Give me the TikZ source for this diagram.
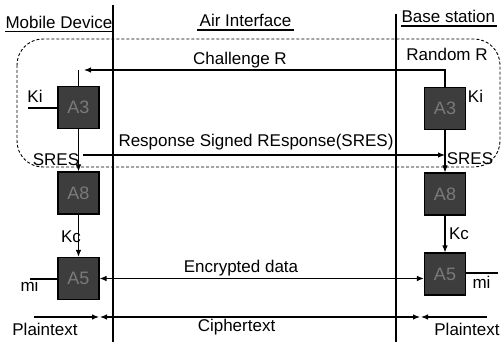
\documentclass[tikz,border=0pt]{standalone}
\usepackage{fontspec}
\setmainfont{Liberation Sans}
\usetikzlibrary{arrows.meta}
\begin{document}
\begin{tikzpicture}[x=1pt,y=-1pt,line width=1.1pt,
  box/.style={draw=black,fill=black!76,minimum width=41pt,minimum height=42pt,
    inner sep=0pt,text=black!52,font=\fontsize{18}{18}\selectfont},
  lbl/.style={font=\fontsize{17}{18}\selectfont,inner sep=0pt,anchor=base},
  tip/.style={-{Latex[length=7pt,width=5.5pt]}},
  dtip/.style={{Latex[length=7pt,width=5.5pt]}-{Latex[length=7pt,width=5.5pt]}},
  frame/.style={dash pattern=on 3pt off 2pt,line width=0.9pt,rounded corners=26pt}]
\useasboundingbox (0,0) rectangle (501,342);

% dashed frame around the authentication exchange
\draw[frame] (17,39) rectangle (500,167);

% lifelines
\coordinate (mlt) at (113,5);
\coordinate (mlb) at (113,342);
\coordinate (blt) at (396,14);
\coordinate (blb) at (396,342);
\draw (mlt) -- (mlb);
\draw (blt) -- (blb);

% headers
\node[lbl,anchor=base west] (hmob) at (5,28.5) {Mobile Device};
\node[lbl] (hair) at (245.5,27) {Air Interface};
\node[lbl,anchor=base west] (hbase) at (401,23) {Base station};
\draw (hmob.base west) ++(0,3) -- (113,31.5);
\draw (197,30) -- (294,30);
\draw (401,26) -- (497,26);

% algorithm blocks
\node[box] (mA3) at (78.5,107.5) {A3};
\node[box] (mA8) at (78.5,193) {A8};
\node[box] (mA5) at (78.5,278.5) {A5};
\node[box] (bA3) at (445,108.5) {A3};
\node[box] (bA8) at (445,194) {A8};
\node[box] (bA5) at (445,274) {A5};

% challenge
\coordinate (chl) at (84,70);
\coordinate (chs) at (78.5,70);
\draw[tip] (bA3.north) |- (chl);
\draw (chs) -- (mA3.north);
\node[lbl] (tch) at (240,65) {Challenge R};
\node[lbl] (trand) at (447,61) {Random R};

% keys Ki
\coordinate (kil) at (28,108);
\draw (kil) -- (kil -| mA3.west);
\node[lbl] (tkil) at (35,103) {Ki};
\node[lbl] (tkir) at (475.5,103) {Ki};

% signed response
\draw[tip] (mA3.south) -- (mA8.north);
\draw[tip] (bA3.south) -- (bA8.north);
\coordinate (rsl) at (83,155);
\draw[tip] (rsl) -- (rsl -| bA3.south);
\node[lbl] (tresp) at (256,147) {Response Signed REsponse(SRES)};
\node[lbl] (tsl) at (56,166) {SRES};
\node[lbl] (tsr) at (470,165) {SRES};

% cipher keys Kc
\draw[tip] (mA8.south) -- (mA5.north);
\draw[tip] (bA8.south) -- (bA5.north);
\node[lbl] (tkcl) at (71,242) {Kc};
\node[lbl] (tkcr) at (459,240) {Kc};

% encrypted data
\draw[dtip] (mA5.east) -- (mA5.east -| bA5.west);
\node[lbl] (tenc) at (241,272) {Encrypted data};

% message inputs mi
\coordinate (mil) at (30,279);
\draw (mil) -- (mil -| mA5.west);
\coordinate (mir) at (498,273);
\draw (mir) -- (mir -| bA5.east);
\node[lbl] (tmil) at (29.5,291) {mi};
\node[lbl] (tmir) at (481.5,288) {mi};

% plaintext / ciphertext ranges
\coordinate (pl) at (34,317);
\coordinate (cl) at (99.5,317);
\coordinate (cr) at (420.5,317);
\coordinate (pr) at (487,317);
\draw[tip] (pl) -- ([xshift=-0.5pt]cl);
\draw[dtip] ([xshift=0.5pt]cl) -- ([xshift=-0.5pt]cr);
\draw[tip] (pr) -- ([xshift=0.5pt]cr);
\node[lbl] (tpl) at (45,335) {Plaintext};
\node[lbl] (tcip) at (236.5,331) {Ciphertext};
\node[lbl] (tpr) at (467,335) {Plaintext};
\end{tikzpicture}
\end{document}
